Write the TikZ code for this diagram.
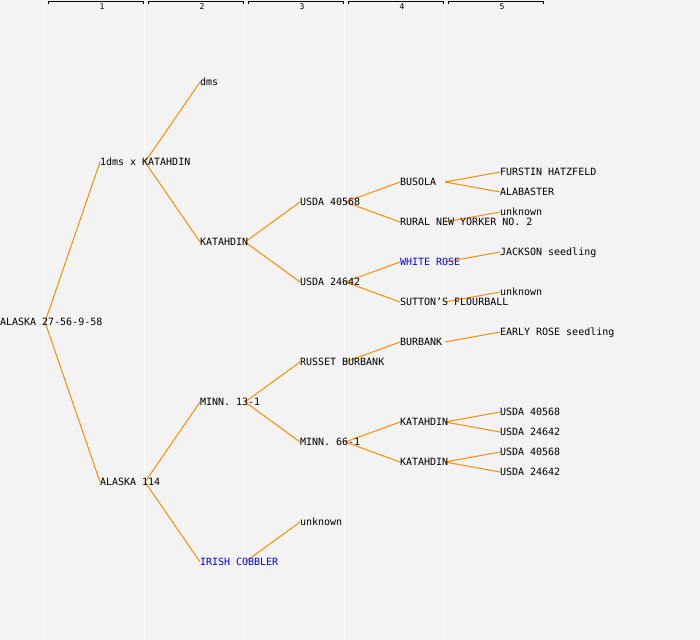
\documentclass[tikz,border=0pt]{standalone}
\usepackage{fontspec}
\newfontfamily\monof{DejaVu Sans Mono}
\usetikzlibrary{calc}
\pgfdeclarelayer{bg}
\pgfdeclarelayer{edges}
\pgfsetlayers{bg,edges,main}
\definecolor{bgc}{RGB}{243,243,243}
\definecolor{edgec}{RGB}{255,140,0}
\definecolor{bluec}{RGB}{0,0,255}
\begin{document}
\begin{tikzpicture}[x=1bp,y=-1bp,
  nm/.style={anchor=west, inner sep=0pt, outer sep=0pt, text height=7.3bp, text depth=0pt,
             font=\monof\fontsize{10bp}{12bp}\selectfont},
  nmb/.style={nm, text=bluec},
  edge/.style={draw=edgec, line width=1bp},
  colline/.style={draw=white, line width=1bp},
  bracket/.style={draw=black, line width=1bp},
  hdr/.style={inner sep=0pt, font=\monof\fontsize{8bp}{9bp}\selectfont}]
\useasboundingbox (0,0) rectangle (700,640);
\begin{pgfonlayer}{bg}
  \fill[bgc] (0,0) rectangle (700,640);
  \foreach \x in {44.5,144.5,244.5,344.5,444.5}
    \draw[colline] (\x,0) -- (\x,640);
\end{pgfonlayer}
% header brackets
\foreach \k in {1,...,5}{
  \draw[bracket] ({100*\k-52},4.5) -- ({100*\k-52},1.5) -- ({100*\k-57+100},1.5) -- ({100*\k-57+100},4.5);
  \node[hdr] (h\k) at ({100*\k+2},7) {\k};
}
% generation 0
\node[nm] (n0) at (0,322) {ALASKA 27-56-9-58};
% generation 1
\node[nm] (a1) at (100,162) {1dms x KATAHDIN};
\node[nm] (a2) at (100,482) {ALASKA 114};
% generation 2
\node[nm] (b1) at (200,82) {dms};
\node[nm] (b2) at (200,242) {KATAHDIN};
\node[nm] (b3) at (200,402) {MINN. 13-1};
\node[nmb] (b4) at (200,562) {IRISH COBBLER};
% generation 3
\node[nm] (c1) at (300,202) {USDA 40568};
\node[nm] (c2) at (300,282) {USDA 24642};
\node[nm] (c3) at (300,362) {RUSSET BURBANK};
\node[nm] (c4) at (300,442) {MINN. 66-1};
\node[nm] (c5) at (300,522) {unknown};
% generation 4
\node[nm] (d1) at (400,182) {BUSOLA};
\node[nm] (d2) at (400,222) {RURAL NEW YORKER NO. 2};
\node[nmb] (d3) at (400,262) {WHITE ROSE};
\node[nm] (d4) at (400,302) {SUTTON’S FLOURBALL};
\node[nm] (d5) at (400,342) {BURBANK};
\node[nm] (d6) at (400,422) {KATAHDIN};
\node[nm] (d7) at (400,462) {KATAHDIN};
% generation 5
\node[nm] (e1) at (500,172) {FURSTIN HATZFELD};
\node[nm] (e2) at (500,192) {ALABASTER};
\node[nm] (e3) at (500,212) {unknown};
\node[nm] (e4) at (500,252) {JACKSON seedling};
\node[nm] (e5) at (500,292) {unknown};
\node[nm] (e6) at (500,332) {EARLY ROSE seedling};
\node[nm] (e7) at (500,412) {USDA 40568};
\node[nm] (e8) at (500,432) {USDA 24642};
\node[nm] (e9) at (500,452) {USDA 40568};
\node[nm] (e10) at (500,472) {USDA 24642};
\begin{pgfonlayer}{edges}
\foreach \p/\c in {n0/a1,n0/a2,a1/b1,a1/b2,a2/b3,a2/b4,b2/c1,b2/c2,b3/c3,b3/c4,b4/c5,
                   c1/d1,c1/d2,c2/d3,c2/d4,c3/d5,c4/d6,c4/d7,
                   d1/e1,d1/e2,d2/e3,d3/e4,d4/e5,d5/e6,d6/e7,d6/e8,d7/e9,d7/e10}
  \draw[edge] ($(\p.west)+(45,0)$) -- (\c.west);
\end{pgfonlayer}
\end{tikzpicture}
\end{document}
